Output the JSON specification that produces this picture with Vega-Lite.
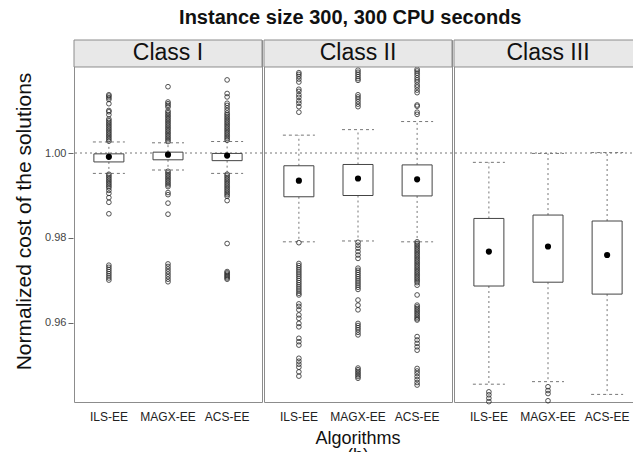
{
  "$schema": "https://vega.github.io/schema/vega-lite/v6.json",
  "padding": {"left": 13, "top": 8, "right": 0, "bottom": 0},
  "background": "white",
  "title": {"text": "Instance size 300, 300 CPU seconds", "fontSize": 20, "fontWeight": "bold", "anchor": "middle", "offset": 11, "dx": 22, "color": "#111"},
  "data": {"values": [
    {"class": "Class I", "kind": "strip"},
    {"class": "Class II", "kind": "strip"},
    {"class": "Class III", "kind": "strip"},

    {"class": "Class I", "algorithm": "ILS-EE", "kind": "stats", "lo": 0.9952, "q1": 0.9979, "median": 0.9991, "q3": 0.9998, "hi": 1.0026},
    {"class": "Class I", "algorithm": "MAGX-EE", "kind": "stats", "lo": 0.9960, "q1": 0.9984, "median": 0.9996, "q3": 1.0002, "hi": 1.0024},
    {"class": "Class I", "algorithm": "ACS-EE", "kind": "stats", "lo": 0.9952, "q1": 0.9982, "median": 0.9994, "q3": 0.9999, "hi": 1.0027},
    {"class": "Class II", "algorithm": "ILS-EE", "kind": "stats", "lo": 0.9791, "q1": 0.9897, "median": 0.9935, "q3": 0.9970, "hi": 1.0042},
    {"class": "Class II", "algorithm": "MAGX-EE", "kind": "stats", "lo": 0.9793, "q1": 0.9900, "median": 0.9940, "q3": 0.9973, "hi": 1.0055},
    {"class": "Class II", "algorithm": "ACS-EE", "kind": "stats", "lo": 0.9791, "q1": 0.9899, "median": 0.9938, "q3": 0.9972, "hi": 1.0074},
    {"class": "Class III", "algorithm": "ILS-EE", "kind": "stats", "lo": 0.9456, "q1": 0.9687, "median": 0.9768, "q3": 0.9846, "hi": 0.9978},
    {"class": "Class III", "algorithm": "MAGX-EE", "kind": "stats", "lo": 0.9462, "q1": 0.9696, "median": 0.9780, "q3": 0.9854, "hi": 0.9999},
    {"class": "Class III", "algorithm": "ACS-EE", "kind": "stats", "lo": 0.9432, "q1": 0.9668, "median": 0.9760, "q3": 0.9840, "hi": 1.0001},

    {"class": "Class I", "algorithm": "ILS-EE", "kind": "outlier", "value": 1.0028},
    {"class": "Class I", "algorithm": "ILS-EE", "kind": "outlier", "value": 1.0032},
    {"class": "Class I", "algorithm": "ILS-EE", "kind": "outlier", "value": 1.0036},
    {"class": "Class I", "algorithm": "ILS-EE", "kind": "outlier", "value": 1.0040},
    {"class": "Class I", "algorithm": "ILS-EE", "kind": "outlier", "value": 1.0044},
    {"class": "Class I", "algorithm": "ILS-EE", "kind": "outlier", "value": 1.0048},
    {"class": "Class I", "algorithm": "ILS-EE", "kind": "outlier", "value": 1.0052},
    {"class": "Class I", "algorithm": "ILS-EE", "kind": "outlier", "value": 1.0056},
    {"class": "Class I", "algorithm": "ILS-EE", "kind": "outlier", "value": 1.0060},
    {"class": "Class I", "algorithm": "ILS-EE", "kind": "outlier", "value": 1.0064},
    {"class": "Class I", "algorithm": "ILS-EE", "kind": "outlier", "value": 1.0068},
    {"class": "Class I", "algorithm": "ILS-EE", "kind": "outlier", "value": 1.0072},
    {"class": "Class I", "algorithm": "ILS-EE", "kind": "outlier", "value": 1.0076},
    {"class": "Class I", "algorithm": "ILS-EE", "kind": "outlier", "value": 1.0080},
    {"class": "Class I", "algorithm": "ILS-EE", "kind": "outlier", "value": 1.0090},
    {"class": "Class I", "algorithm": "ILS-EE", "kind": "outlier", "value": 1.0097},
    {"class": "Class I", "algorithm": "ILS-EE", "kind": "outlier", "value": 1.0100},
    {"class": "Class I", "algorithm": "ILS-EE", "kind": "outlier", "value": 1.0116},
    {"class": "Class I", "algorithm": "ILS-EE", "kind": "outlier", "value": 1.0126},
    {"class": "Class I", "algorithm": "ILS-EE", "kind": "outlier", "value": 1.0130},
    {"class": "Class I", "algorithm": "ILS-EE", "kind": "outlier", "value": 1.0134},
    {"class": "Class I", "algorithm": "ILS-EE", "kind": "outlier", "value": 1.0137},
    {"class": "Class I", "algorithm": "ILS-EE", "kind": "outlier", "value": 0.9950},
    {"class": "Class I", "algorithm": "ILS-EE", "kind": "outlier", "value": 0.9946},
    {"class": "Class I", "algorithm": "ILS-EE", "kind": "outlier", "value": 0.9942},
    {"class": "Class I", "algorithm": "ILS-EE", "kind": "outlier", "value": 0.9938},
    {"class": "Class I", "algorithm": "ILS-EE", "kind": "outlier", "value": 0.9934},
    {"class": "Class I", "algorithm": "ILS-EE", "kind": "outlier", "value": 0.9930},
    {"class": "Class I", "algorithm": "ILS-EE", "kind": "outlier", "value": 0.9926},
    {"class": "Class I", "algorithm": "ILS-EE", "kind": "outlier", "value": 0.9922},
    {"class": "Class I", "algorithm": "ILS-EE", "kind": "outlier", "value": 0.9918},
    {"class": "Class I", "algorithm": "ILS-EE", "kind": "outlier", "value": 0.9912},
    {"class": "Class I", "algorithm": "ILS-EE", "kind": "outlier", "value": 0.9905},
    {"class": "Class I", "algorithm": "ILS-EE", "kind": "outlier", "value": 0.9895},
    {"class": "Class I", "algorithm": "ILS-EE", "kind": "outlier", "value": 0.9884},
    {"class": "Class I", "algorithm": "ILS-EE", "kind": "outlier", "value": 0.9857},
    {"class": "Class I", "algorithm": "ILS-EE", "kind": "outlier", "value": 0.9736},
    {"class": "Class I", "algorithm": "ILS-EE", "kind": "outlier", "value": 0.9731},
    {"class": "Class I", "algorithm": "ILS-EE", "kind": "outlier", "value": 0.9726},
    {"class": "Class I", "algorithm": "ILS-EE", "kind": "outlier", "value": 0.9721},
    {"class": "Class I", "algorithm": "ILS-EE", "kind": "outlier", "value": 0.9716},
    {"class": "Class I", "algorithm": "ILS-EE", "kind": "outlier", "value": 0.9711},
    {"class": "Class I", "algorithm": "ILS-EE", "kind": "outlier", "value": 0.9706},
    {"class": "Class I", "algorithm": "ILS-EE", "kind": "outlier", "value": 0.9701},

    {"class": "Class I", "algorithm": "MAGX-EE", "kind": "outlier", "value": 1.0027},
    {"class": "Class I", "algorithm": "MAGX-EE", "kind": "outlier", "value": 1.0031},
    {"class": "Class I", "algorithm": "MAGX-EE", "kind": "outlier", "value": 1.0035},
    {"class": "Class I", "algorithm": "MAGX-EE", "kind": "outlier", "value": 1.0039},
    {"class": "Class I", "algorithm": "MAGX-EE", "kind": "outlier", "value": 1.0043},
    {"class": "Class I", "algorithm": "MAGX-EE", "kind": "outlier", "value": 1.0047},
    {"class": "Class I", "algorithm": "MAGX-EE", "kind": "outlier", "value": 1.0051},
    {"class": "Class I", "algorithm": "MAGX-EE", "kind": "outlier", "value": 1.0055},
    {"class": "Class I", "algorithm": "MAGX-EE", "kind": "outlier", "value": 1.0059},
    {"class": "Class I", "algorithm": "MAGX-EE", "kind": "outlier", "value": 1.0063},
    {"class": "Class I", "algorithm": "MAGX-EE", "kind": "outlier", "value": 1.0067},
    {"class": "Class I", "algorithm": "MAGX-EE", "kind": "outlier", "value": 1.0071},
    {"class": "Class I", "algorithm": "MAGX-EE", "kind": "outlier", "value": 1.0075},
    {"class": "Class I", "algorithm": "MAGX-EE", "kind": "outlier", "value": 1.0079},
    {"class": "Class I", "algorithm": "MAGX-EE", "kind": "outlier", "value": 1.0083},
    {"class": "Class I", "algorithm": "MAGX-EE", "kind": "outlier", "value": 1.0087},
    {"class": "Class I", "algorithm": "MAGX-EE", "kind": "outlier", "value": 1.0091},
    {"class": "Class I", "algorithm": "MAGX-EE", "kind": "outlier", "value": 1.0095},
    {"class": "Class I", "algorithm": "MAGX-EE", "kind": "outlier", "value": 1.0099},
    {"class": "Class I", "algorithm": "MAGX-EE", "kind": "outlier", "value": 1.0108},
    {"class": "Class I", "algorithm": "MAGX-EE", "kind": "outlier", "value": 1.0112},
    {"class": "Class I", "algorithm": "MAGX-EE", "kind": "outlier", "value": 1.0116},
    {"class": "Class I", "algorithm": "MAGX-EE", "kind": "outlier", "value": 1.0120},
    {"class": "Class I", "algorithm": "MAGX-EE", "kind": "outlier", "value": 1.0156},
    {"class": "Class I", "algorithm": "MAGX-EE", "kind": "outlier", "value": 0.9957},
    {"class": "Class I", "algorithm": "MAGX-EE", "kind": "outlier", "value": 0.9953},
    {"class": "Class I", "algorithm": "MAGX-EE", "kind": "outlier", "value": 0.9949},
    {"class": "Class I", "algorithm": "MAGX-EE", "kind": "outlier", "value": 0.9945},
    {"class": "Class I", "algorithm": "MAGX-EE", "kind": "outlier", "value": 0.9941},
    {"class": "Class I", "algorithm": "MAGX-EE", "kind": "outlier", "value": 0.9937},
    {"class": "Class I", "algorithm": "MAGX-EE", "kind": "outlier", "value": 0.9933},
    {"class": "Class I", "algorithm": "MAGX-EE", "kind": "outlier", "value": 0.9929},
    {"class": "Class I", "algorithm": "MAGX-EE", "kind": "outlier", "value": 0.9925},
    {"class": "Class I", "algorithm": "MAGX-EE", "kind": "outlier", "value": 0.9921},
    {"class": "Class I", "algorithm": "MAGX-EE", "kind": "outlier", "value": 0.9907},
    {"class": "Class I", "algorithm": "MAGX-EE", "kind": "outlier", "value": 0.9902},
    {"class": "Class I", "algorithm": "MAGX-EE", "kind": "outlier", "value": 0.9882},
    {"class": "Class I", "algorithm": "MAGX-EE", "kind": "outlier", "value": 0.9856},
    {"class": "Class I", "algorithm": "MAGX-EE", "kind": "outlier", "value": 0.9739},
    {"class": "Class I", "algorithm": "MAGX-EE", "kind": "outlier", "value": 0.9733},
    {"class": "Class I", "algorithm": "MAGX-EE", "kind": "outlier", "value": 0.9727},
    {"class": "Class I", "algorithm": "MAGX-EE", "kind": "outlier", "value": 0.9721},
    {"class": "Class I", "algorithm": "MAGX-EE", "kind": "outlier", "value": 0.9715},
    {"class": "Class I", "algorithm": "MAGX-EE", "kind": "outlier", "value": 0.9709},
    {"class": "Class I", "algorithm": "MAGX-EE", "kind": "outlier", "value": 0.9703},
    {"class": "Class I", "algorithm": "MAGX-EE", "kind": "outlier", "value": 0.9697},

    {"class": "Class I", "algorithm": "ACS-EE", "kind": "outlier", "value": 1.0030},
    {"class": "Class I", "algorithm": "ACS-EE", "kind": "outlier", "value": 1.0034},
    {"class": "Class I", "algorithm": "ACS-EE", "kind": "outlier", "value": 1.0038},
    {"class": "Class I", "algorithm": "ACS-EE", "kind": "outlier", "value": 1.0042},
    {"class": "Class I", "algorithm": "ACS-EE", "kind": "outlier", "value": 1.0046},
    {"class": "Class I", "algorithm": "ACS-EE", "kind": "outlier", "value": 1.0050},
    {"class": "Class I", "algorithm": "ACS-EE", "kind": "outlier", "value": 1.0054},
    {"class": "Class I", "algorithm": "ACS-EE", "kind": "outlier", "value": 1.0058},
    {"class": "Class I", "algorithm": "ACS-EE", "kind": "outlier", "value": 1.0062},
    {"class": "Class I", "algorithm": "ACS-EE", "kind": "outlier", "value": 1.0066},
    {"class": "Class I", "algorithm": "ACS-EE", "kind": "outlier", "value": 1.0070},
    {"class": "Class I", "algorithm": "ACS-EE", "kind": "outlier", "value": 1.0074},
    {"class": "Class I", "algorithm": "ACS-EE", "kind": "outlier", "value": 1.0078},
    {"class": "Class I", "algorithm": "ACS-EE", "kind": "outlier", "value": 1.0082},
    {"class": "Class I", "algorithm": "ACS-EE", "kind": "outlier", "value": 1.0086},
    {"class": "Class I", "algorithm": "ACS-EE", "kind": "outlier", "value": 1.0090},
    {"class": "Class I", "algorithm": "ACS-EE", "kind": "outlier", "value": 1.0094},
    {"class": "Class I", "algorithm": "ACS-EE", "kind": "outlier", "value": 1.0100},
    {"class": "Class I", "algorithm": "ACS-EE", "kind": "outlier", "value": 1.0106},
    {"class": "Class I", "algorithm": "ACS-EE", "kind": "outlier", "value": 1.0112},
    {"class": "Class I", "algorithm": "ACS-EE", "kind": "outlier", "value": 1.0117},
    {"class": "Class I", "algorithm": "ACS-EE", "kind": "outlier", "value": 1.0132},
    {"class": "Class I", "algorithm": "ACS-EE", "kind": "outlier", "value": 1.0140},
    {"class": "Class I", "algorithm": "ACS-EE", "kind": "outlier", "value": 1.0172},
    {"class": "Class I", "algorithm": "ACS-EE", "kind": "outlier", "value": 0.9950},
    {"class": "Class I", "algorithm": "ACS-EE", "kind": "outlier", "value": 0.9946},
    {"class": "Class I", "algorithm": "ACS-EE", "kind": "outlier", "value": 0.9942},
    {"class": "Class I", "algorithm": "ACS-EE", "kind": "outlier", "value": 0.9938},
    {"class": "Class I", "algorithm": "ACS-EE", "kind": "outlier", "value": 0.9934},
    {"class": "Class I", "algorithm": "ACS-EE", "kind": "outlier", "value": 0.9930},
    {"class": "Class I", "algorithm": "ACS-EE", "kind": "outlier", "value": 0.9926},
    {"class": "Class I", "algorithm": "ACS-EE", "kind": "outlier", "value": 0.9922},
    {"class": "Class I", "algorithm": "ACS-EE", "kind": "outlier", "value": 0.9918},
    {"class": "Class I", "algorithm": "ACS-EE", "kind": "outlier", "value": 0.9914},
    {"class": "Class I", "algorithm": "ACS-EE", "kind": "outlier", "value": 0.9910},
    {"class": "Class I", "algorithm": "ACS-EE", "kind": "outlier", "value": 0.9906},
    {"class": "Class I", "algorithm": "ACS-EE", "kind": "outlier", "value": 0.9902},
    {"class": "Class I", "algorithm": "ACS-EE", "kind": "outlier", "value": 0.9898},
    {"class": "Class I", "algorithm": "ACS-EE", "kind": "outlier", "value": 0.9888},
    {"class": "Class I", "algorithm": "ACS-EE", "kind": "outlier", "value": 0.9787},
    {"class": "Class I", "algorithm": "ACS-EE", "kind": "outlier", "value": 0.9721},
    {"class": "Class I", "algorithm": "ACS-EE", "kind": "outlier", "value": 0.9718},
    {"class": "Class I", "algorithm": "ACS-EE", "kind": "outlier", "value": 0.9715},
    {"class": "Class I", "algorithm": "ACS-EE", "kind": "outlier", "value": 0.9712},
    {"class": "Class I", "algorithm": "ACS-EE", "kind": "outlier", "value": 0.9709},
    {"class": "Class I", "algorithm": "ACS-EE", "kind": "outlier", "value": 0.9706},
    {"class": "Class I", "algorithm": "ACS-EE", "kind": "outlier", "value": 0.9703},

    {"class": "Class II", "algorithm": "ILS-EE", "kind": "outlier", "value": 1.0189},
    {"class": "Class II", "algorithm": "ILS-EE", "kind": "outlier", "value": 1.0185},
    {"class": "Class II", "algorithm": "ILS-EE", "kind": "outlier", "value": 1.0180},
    {"class": "Class II", "algorithm": "ILS-EE", "kind": "outlier", "value": 1.0174},
    {"class": "Class II", "algorithm": "ILS-EE", "kind": "outlier", "value": 1.0167},
    {"class": "Class II", "algorithm": "ILS-EE", "kind": "outlier", "value": 1.0150},
    {"class": "Class II", "algorithm": "ILS-EE", "kind": "outlier", "value": 1.0145},
    {"class": "Class II", "algorithm": "ILS-EE", "kind": "outlier", "value": 1.0137},
    {"class": "Class II", "algorithm": "ILS-EE", "kind": "outlier", "value": 1.0131},
    {"class": "Class II", "algorithm": "ILS-EE", "kind": "outlier", "value": 1.0123},
    {"class": "Class II", "algorithm": "ILS-EE", "kind": "outlier", "value": 1.0117},
    {"class": "Class II", "algorithm": "ILS-EE", "kind": "outlier", "value": 1.0109},
    {"class": "Class II", "algorithm": "ILS-EE", "kind": "outlier", "value": 1.0096},
    {"class": "Class II", "algorithm": "ILS-EE", "kind": "outlier", "value": 0.9789},
    {"class": "Class II", "algorithm": "ILS-EE", "kind": "outlier", "value": 0.9740},
    {"class": "Class II", "algorithm": "ILS-EE", "kind": "outlier", "value": 0.9735},
    {"class": "Class II", "algorithm": "ILS-EE", "kind": "outlier", "value": 0.9730},
    {"class": "Class II", "algorithm": "ILS-EE", "kind": "outlier", "value": 0.9725},
    {"class": "Class II", "algorithm": "ILS-EE", "kind": "outlier", "value": 0.9720},
    {"class": "Class II", "algorithm": "ILS-EE", "kind": "outlier", "value": 0.9715},
    {"class": "Class II", "algorithm": "ILS-EE", "kind": "outlier", "value": 0.9710},
    {"class": "Class II", "algorithm": "ILS-EE", "kind": "outlier", "value": 0.9705},
    {"class": "Class II", "algorithm": "ILS-EE", "kind": "outlier", "value": 0.9700},
    {"class": "Class II", "algorithm": "ILS-EE", "kind": "outlier", "value": 0.9695},
    {"class": "Class II", "algorithm": "ILS-EE", "kind": "outlier", "value": 0.9690},
    {"class": "Class II", "algorithm": "ILS-EE", "kind": "outlier", "value": 0.9685},
    {"class": "Class II", "algorithm": "ILS-EE", "kind": "outlier", "value": 0.9680},
    {"class": "Class II", "algorithm": "ILS-EE", "kind": "outlier", "value": 0.9675},
    {"class": "Class II", "algorithm": "ILS-EE", "kind": "outlier", "value": 0.9670},
    {"class": "Class II", "algorithm": "ILS-EE", "kind": "outlier", "value": 0.9666},
    {"class": "Class II", "algorithm": "ILS-EE", "kind": "outlier", "value": 0.9645},
    {"class": "Class II", "algorithm": "ILS-EE", "kind": "outlier", "value": 0.9639},
    {"class": "Class II", "algorithm": "ILS-EE", "kind": "outlier", "value": 0.9631},
    {"class": "Class II", "algorithm": "ILS-EE", "kind": "outlier", "value": 0.9619},
    {"class": "Class II", "algorithm": "ILS-EE", "kind": "outlier", "value": 0.9611},
    {"class": "Class II", "algorithm": "ILS-EE", "kind": "outlier", "value": 0.9599},
    {"class": "Class II", "algorithm": "ILS-EE", "kind": "outlier", "value": 0.9591},
    {"class": "Class II", "algorithm": "ILS-EE", "kind": "outlier", "value": 0.9564},
    {"class": "Class II", "algorithm": "ILS-EE", "kind": "outlier", "value": 0.9556},
    {"class": "Class II", "algorithm": "ILS-EE", "kind": "outlier", "value": 0.9548},
    {"class": "Class II", "algorithm": "ILS-EE", "kind": "outlier", "value": 0.9517},
    {"class": "Class II", "algorithm": "ILS-EE", "kind": "outlier", "value": 0.9510},
    {"class": "Class II", "algorithm": "ILS-EE", "kind": "outlier", "value": 0.9503},
    {"class": "Class II", "algorithm": "ILS-EE", "kind": "outlier", "value": 0.9496},
    {"class": "Class II", "algorithm": "ILS-EE", "kind": "outlier", "value": 0.9485},
    {"class": "Class II", "algorithm": "ILS-EE", "kind": "outlier", "value": 0.9475},

    {"class": "Class II", "algorithm": "MAGX-EE", "kind": "outlier", "value": 1.0195},
    {"class": "Class II", "algorithm": "MAGX-EE", "kind": "outlier", "value": 1.0190},
    {"class": "Class II", "algorithm": "MAGX-EE", "kind": "outlier", "value": 1.0185},
    {"class": "Class II", "algorithm": "MAGX-EE", "kind": "outlier", "value": 1.0180},
    {"class": "Class II", "algorithm": "MAGX-EE", "kind": "outlier", "value": 1.0175},
    {"class": "Class II", "algorithm": "MAGX-EE", "kind": "outlier", "value": 1.0171},
    {"class": "Class II", "algorithm": "MAGX-EE", "kind": "outlier", "value": 1.0137},
    {"class": "Class II", "algorithm": "MAGX-EE", "kind": "outlier", "value": 1.0132},
    {"class": "Class II", "algorithm": "MAGX-EE", "kind": "outlier", "value": 1.0127},
    {"class": "Class II", "algorithm": "MAGX-EE", "kind": "outlier", "value": 1.0121},
    {"class": "Class II", "algorithm": "MAGX-EE", "kind": "outlier", "value": 1.0115},
    {"class": "Class II", "algorithm": "MAGX-EE", "kind": "outlier", "value": 1.0109},
    {"class": "Class II", "algorithm": "MAGX-EE", "kind": "outlier", "value": 0.9790},
    {"class": "Class II", "algorithm": "MAGX-EE", "kind": "outlier", "value": 0.9783},
    {"class": "Class II", "algorithm": "MAGX-EE", "kind": "outlier", "value": 0.9776},
    {"class": "Class II", "algorithm": "MAGX-EE", "kind": "outlier", "value": 0.9768},
    {"class": "Class II", "algorithm": "MAGX-EE", "kind": "outlier", "value": 0.9760},
    {"class": "Class II", "algorithm": "MAGX-EE", "kind": "outlier", "value": 0.9752},
    {"class": "Class II", "algorithm": "MAGX-EE", "kind": "outlier", "value": 0.9729},
    {"class": "Class II", "algorithm": "MAGX-EE", "kind": "outlier", "value": 0.9724},
    {"class": "Class II", "algorithm": "MAGX-EE", "kind": "outlier", "value": 0.9719},
    {"class": "Class II", "algorithm": "MAGX-EE", "kind": "outlier", "value": 0.9714},
    {"class": "Class II", "algorithm": "MAGX-EE", "kind": "outlier", "value": 0.9709},
    {"class": "Class II", "algorithm": "MAGX-EE", "kind": "outlier", "value": 0.9704},
    {"class": "Class II", "algorithm": "MAGX-EE", "kind": "outlier", "value": 0.9699},
    {"class": "Class II", "algorithm": "MAGX-EE", "kind": "outlier", "value": 0.9694},
    {"class": "Class II", "algorithm": "MAGX-EE", "kind": "outlier", "value": 0.9689},
    {"class": "Class II", "algorithm": "MAGX-EE", "kind": "outlier", "value": 0.9684},
    {"class": "Class II", "algorithm": "MAGX-EE", "kind": "outlier", "value": 0.9679},
    {"class": "Class II", "algorithm": "MAGX-EE", "kind": "outlier", "value": 0.9654},
    {"class": "Class II", "algorithm": "MAGX-EE", "kind": "outlier", "value": 0.9642},
    {"class": "Class II", "algorithm": "MAGX-EE", "kind": "outlier", "value": 0.9631},
    {"class": "Class II", "algorithm": "MAGX-EE", "kind": "outlier", "value": 0.9599},
    {"class": "Class II", "algorithm": "MAGX-EE", "kind": "outlier", "value": 0.9594},
    {"class": "Class II", "algorithm": "MAGX-EE", "kind": "outlier", "value": 0.9589},
    {"class": "Class II", "algorithm": "MAGX-EE", "kind": "outlier", "value": 0.9584},
    {"class": "Class II", "algorithm": "MAGX-EE", "kind": "outlier", "value": 0.9578},
    {"class": "Class II", "algorithm": "MAGX-EE", "kind": "outlier", "value": 0.9572},
    {"class": "Class II", "algorithm": "MAGX-EE", "kind": "outlier", "value": 0.9494},
    {"class": "Class II", "algorithm": "MAGX-EE", "kind": "outlier", "value": 0.9490},
    {"class": "Class II", "algorithm": "MAGX-EE", "kind": "outlier", "value": 0.9486},
    {"class": "Class II", "algorithm": "MAGX-EE", "kind": "outlier", "value": 0.9482},
    {"class": "Class II", "algorithm": "MAGX-EE", "kind": "outlier", "value": 0.9478},
    {"class": "Class II", "algorithm": "MAGX-EE", "kind": "outlier", "value": 0.9474},
    {"class": "Class II", "algorithm": "MAGX-EE", "kind": "outlier", "value": 0.9470},

    {"class": "Class II", "algorithm": "ACS-EE", "kind": "outlier", "value": 1.0197},
    {"class": "Class II", "algorithm": "ACS-EE", "kind": "outlier", "value": 1.0193},
    {"class": "Class II", "algorithm": "ACS-EE", "kind": "outlier", "value": 1.0188},
    {"class": "Class II", "algorithm": "ACS-EE", "kind": "outlier", "value": 1.0183},
    {"class": "Class II", "algorithm": "ACS-EE", "kind": "outlier", "value": 1.0177},
    {"class": "Class II", "algorithm": "ACS-EE", "kind": "outlier", "value": 1.0172},
    {"class": "Class II", "algorithm": "ACS-EE", "kind": "outlier", "value": 1.0167},
    {"class": "Class II", "algorithm": "ACS-EE", "kind": "outlier", "value": 1.0160},
    {"class": "Class II", "algorithm": "ACS-EE", "kind": "outlier", "value": 1.0155},
    {"class": "Class II", "algorithm": "ACS-EE", "kind": "outlier", "value": 1.0148},
    {"class": "Class II", "algorithm": "ACS-EE", "kind": "outlier", "value": 1.0142},
    {"class": "Class II", "algorithm": "ACS-EE", "kind": "outlier", "value": 1.0113},
    {"class": "Class II", "algorithm": "ACS-EE", "kind": "outlier", "value": 1.0110},
    {"class": "Class II", "algorithm": "ACS-EE", "kind": "outlier", "value": 1.0096},
    {"class": "Class II", "algorithm": "ACS-EE", "kind": "outlier", "value": 1.0091},
    {"class": "Class II", "algorithm": "ACS-EE", "kind": "outlier", "value": 0.9791},
    {"class": "Class II", "algorithm": "ACS-EE", "kind": "outlier", "value": 0.9787},
    {"class": "Class II", "algorithm": "ACS-EE", "kind": "outlier", "value": 0.9783},
    {"class": "Class II", "algorithm": "ACS-EE", "kind": "outlier", "value": 0.9779},
    {"class": "Class II", "algorithm": "ACS-EE", "kind": "outlier", "value": 0.9775},
    {"class": "Class II", "algorithm": "ACS-EE", "kind": "outlier", "value": 0.9771},
    {"class": "Class II", "algorithm": "ACS-EE", "kind": "outlier", "value": 0.9767},
    {"class": "Class II", "algorithm": "ACS-EE", "kind": "outlier", "value": 0.9763},
    {"class": "Class II", "algorithm": "ACS-EE", "kind": "outlier", "value": 0.9759},
    {"class": "Class II", "algorithm": "ACS-EE", "kind": "outlier", "value": 0.9755},
    {"class": "Class II", "algorithm": "ACS-EE", "kind": "outlier", "value": 0.9751},
    {"class": "Class II", "algorithm": "ACS-EE", "kind": "outlier", "value": 0.9747},
    {"class": "Class II", "algorithm": "ACS-EE", "kind": "outlier", "value": 0.9743},
    {"class": "Class II", "algorithm": "ACS-EE", "kind": "outlier", "value": 0.9739},
    {"class": "Class II", "algorithm": "ACS-EE", "kind": "outlier", "value": 0.9735},
    {"class": "Class II", "algorithm": "ACS-EE", "kind": "outlier", "value": 0.9731},
    {"class": "Class II", "algorithm": "ACS-EE", "kind": "outlier", "value": 0.9727},
    {"class": "Class II", "algorithm": "ACS-EE", "kind": "outlier", "value": 0.9723},
    {"class": "Class II", "algorithm": "ACS-EE", "kind": "outlier", "value": 0.9719},
    {"class": "Class II", "algorithm": "ACS-EE", "kind": "outlier", "value": 0.9715},
    {"class": "Class II", "algorithm": "ACS-EE", "kind": "outlier", "value": 0.9711},
    {"class": "Class II", "algorithm": "ACS-EE", "kind": "outlier", "value": 0.9707},
    {"class": "Class II", "algorithm": "ACS-EE", "kind": "outlier", "value": 0.9703},
    {"class": "Class II", "algorithm": "ACS-EE", "kind": "outlier", "value": 0.9699},
    {"class": "Class II", "algorithm": "ACS-EE", "kind": "outlier", "value": 0.9695},
    {"class": "Class II", "algorithm": "ACS-EE", "kind": "outlier", "value": 0.9689},
    {"class": "Class II", "algorithm": "ACS-EE", "kind": "outlier", "value": 0.9666},
    {"class": "Class II", "algorithm": "ACS-EE", "kind": "outlier", "value": 0.9642},
    {"class": "Class II", "algorithm": "ACS-EE", "kind": "outlier", "value": 0.9638},
    {"class": "Class II", "algorithm": "ACS-EE", "kind": "outlier", "value": 0.9634},
    {"class": "Class II", "algorithm": "ACS-EE", "kind": "outlier", "value": 0.9630},
    {"class": "Class II", "algorithm": "ACS-EE", "kind": "outlier", "value": 0.9626},
    {"class": "Class II", "algorithm": "ACS-EE", "kind": "outlier", "value": 0.9622},
    {"class": "Class II", "algorithm": "ACS-EE", "kind": "outlier", "value": 0.9618},
    {"class": "Class II", "algorithm": "ACS-EE", "kind": "outlier", "value": 0.9614},
    {"class": "Class II", "algorithm": "ACS-EE", "kind": "outlier", "value": 0.9610},
    {"class": "Class II", "algorithm": "ACS-EE", "kind": "outlier", "value": 0.9607},
    {"class": "Class II", "algorithm": "ACS-EE", "kind": "outlier", "value": 0.9568},
    {"class": "Class II", "algorithm": "ACS-EE", "kind": "outlier", "value": 0.9560},
    {"class": "Class II", "algorithm": "ACS-EE", "kind": "outlier", "value": 0.9552},
    {"class": "Class II", "algorithm": "ACS-EE", "kind": "outlier", "value": 0.9544},
    {"class": "Class II", "algorithm": "ACS-EE", "kind": "outlier", "value": 0.9536},
    {"class": "Class II", "algorithm": "ACS-EE", "kind": "outlier", "value": 0.9493},
    {"class": "Class II", "algorithm": "ACS-EE", "kind": "outlier", "value": 0.9487},
    {"class": "Class II", "algorithm": "ACS-EE", "kind": "outlier", "value": 0.9481},
    {"class": "Class II", "algorithm": "ACS-EE", "kind": "outlier", "value": 0.9474},
    {"class": "Class II", "algorithm": "ACS-EE", "kind": "outlier", "value": 0.9467},
    {"class": "Class II", "algorithm": "ACS-EE", "kind": "outlier", "value": 0.9460},
    {"class": "Class II", "algorithm": "ACS-EE", "kind": "outlier", "value": 0.9454},

    {"class": "Class III", "algorithm": "ILS-EE", "kind": "outlier", "value": 0.9438},
    {"class": "Class III", "algorithm": "ILS-EE", "kind": "outlier", "value": 0.9431},
    {"class": "Class III", "algorithm": "ILS-EE", "kind": "outlier", "value": 0.9423},
    {"class": "Class III", "algorithm": "ILS-EE", "kind": "outlier", "value": 0.9415},
    {"class": "Class III", "algorithm": "MAGX-EE", "kind": "outlier", "value": 0.9450},
    {"class": "Class III", "algorithm": "MAGX-EE", "kind": "outlier", "value": 0.9441},
    {"class": "Class III", "algorithm": "MAGX-EE", "kind": "outlier", "value": 0.9434},
    {"class": "Class III", "algorithm": "MAGX-EE", "kind": "outlier", "value": 0.9417}
  ]},
  "facet": {
    "column": {
      "field": "class", "type": "nominal",
      "sort": ["Class I", "Class II", "Class III"],
      "header": {"labels": false, "title": ["Algorithms", "(b)"], "titleOrient": "bottom", "titleFontSize": 18, "titleLineHeight": 17, "titleFontWeight": "normal", "titleColor": "#111", "titlePadding": -2}
    }
  },
  "spacing": 0,
  "spec": {
    "width": 188,
    "height": 362,
    "layer": [
      {
        "transform": [{"filter": "datum.kind === 'strip'"}],
        "mark": {"type": "rule", "stroke": "#777", "strokeWidth": 1, "strokeDash": [2, 3]},
        "encoding": {
          "y": {"datum": 1.0, "type": "quantitative", "title": "Normalized cost of the solutions",
                "scale": {"domain": [0.94141, 1.02659], "nice": false, "zero": false},
                "axis": {"values": [0.96, 0.98, 1.0], "format": ".2f"}}
        }
      },
      {
        "transform": [{"filter": "datum.kind === 'stats'"}],
        "mark": {"type": "rule", "stroke": "#777", "strokeWidth": 1, "strokeDash": [2, 3]},
        "encoding": {
          "x": {"field": "algorithm", "type": "nominal", "sort": ["ILS-EE", "MAGX-EE", "ACS-EE"], "scale": {"domain": ["ILS-EE", "MAGX-EE", "ACS-EE"]}},
          "y": {"field": "q3", "type": "quantitative", "title": "Normalized cost of the solutions"},
          "y2": {"field": "hi"}
        }
      },
      {
        "transform": [{"filter": "datum.kind === 'stats'"}],
        "mark": {"type": "rule", "stroke": "#777", "strokeWidth": 1, "strokeDash": [2, 3]},
        "encoding": {
          "x": {"field": "algorithm", "type": "nominal", "sort": ["ILS-EE", "MAGX-EE", "ACS-EE"]},
          "y": {"field": "q1", "type": "quantitative", "title": "Normalized cost of the solutions"},
          "y2": {"field": "lo"}
        }
      },
      {
        "transform": [{"filter": "datum.kind === 'stats'"}],
        "mark": {"type": "rule", "stroke": "#777", "strokeWidth": 1, "strokeDash": [3, 3], "xOffset": -16, "x2Offset": 16},
        "encoding": {
          "x": {"field": "algorithm", "type": "nominal", "sort": ["ILS-EE", "MAGX-EE", "ACS-EE"]},
          "x2": {"field": "algorithm"},
          "y": {"field": "hi", "type": "quantitative", "title": "Normalized cost of the solutions"}
        }
      },
      {
        "transform": [{"filter": "datum.kind === 'stats'"}],
        "mark": {"type": "rule", "stroke": "#777", "strokeWidth": 1, "strokeDash": [3, 3], "xOffset": -16, "x2Offset": 16},
        "encoding": {
          "x": {"field": "algorithm", "type": "nominal", "sort": ["ILS-EE", "MAGX-EE", "ACS-EE"]},
          "x2": {"field": "algorithm"},
          "y": {"field": "lo", "type": "quantitative", "title": "Normalized cost of the solutions"}
        }
      },
      {
        "transform": [{"filter": "datum.kind === 'stats'"}],
        "mark": {"type": "bar", "fill": "white", "stroke": "#444", "strokeWidth": 1, "width": 30},
        "encoding": {
          "x": {"field": "algorithm", "type": "nominal", "sort": ["ILS-EE", "MAGX-EE", "ACS-EE"]},
          "y": {"field": "q3", "type": "quantitative", "title": "Normalized cost of the solutions"},
          "y2": {"field": "q1"}
        }
      },
      {
        "transform": [{"filter": "datum.kind === 'stats'"}],
        "mark": {"type": "point", "filled": true, "fill": "#000", "size": 38, "opacity": 1},
        "encoding": {
          "x": {"field": "algorithm", "type": "nominal", "sort": ["ILS-EE", "MAGX-EE", "ACS-EE"]},
          "y": {"field": "median", "type": "quantitative", "title": "Normalized cost of the solutions"}
        }
      },
      {
        "transform": [{"filter": "datum.kind === 'outlier'"}],
        "mark": {"type": "point", "filled": false, "stroke": "#2a2a2a", "strokeWidth": 0.9, "size": 22, "opacity": 0.9},
        "encoding": {
          "x": {"field": "algorithm", "type": "nominal", "sort": ["ILS-EE", "MAGX-EE", "ACS-EE"]},
          "y": {"field": "value", "type": "quantitative", "title": "Normalized cost of the solutions"}
        }
      },
      {
        "transform": [{"filter": "datum.kind === 'strip'"}],
        "mark": {"type": "rect", "fill": "#e8e8e8", "stroke": "#8c8c8c", "strokeWidth": 1},
        "encoding": {
          "y": {"datum": 1.02024, "type": "quantitative", "title": "Normalized cost of the solutions"},
          "y2": {"datum": 1.02659}
        }
      },
      {
        "transform": [{"filter": "datum.kind === 'strip'"}],
        "mark": {"type": "text", "fontSize": 23, "baseline": "middle", "align": "center", "color": "#111"},
        "encoding": {
          "x": {"datum": "MAGX-EE", "type": "nominal"},
          "y": {"datum": 1.02342, "type": "quantitative", "title": "Normalized cost of the solutions"},
          "text": {"field": "class"}
        }
      }
    ],
    "encoding": {}
  },
  "config": {
    "font": "Liberation Sans",
    "view": {"stroke": "#8c8c8c", "strokeWidth": 1},
    "scale": {"bandPaddingInner": 0, "bandPaddingOuter": 0.09},
    "axisX": {"title": null, "ticks": false, "domain": false, "labelAngle": 0, "labelFontSize": 12, "labelColor": "#222", "labelPadding": 4, "grid": false},
    "axisY": {"titleFontSize": 21, "titleFontWeight": "normal", "titleColor": "#111", "titlePadding": 10, "labelFontSize": 11, "labelColor": "#444", "tickColor": "#666", "tickSize": 5, "labelPadding": 2, "domain": false, "grid": false},
    "header": {"labelFontSize": 0}
  }
}
